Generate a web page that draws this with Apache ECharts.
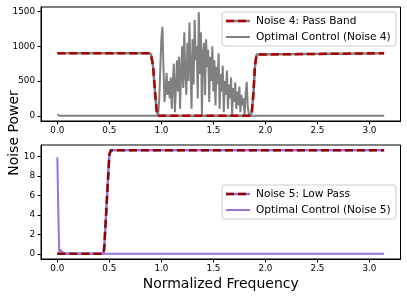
<!DOCTYPE html>
<html><head><meta charset="utf-8">
<script src="https://cdn.jsdelivr.net/npm/echarts@6/dist/echarts.min.js"></script>
<style>html,body{margin:0;padding:0;background:#fff}#c{width:407px;height:298px}</style>
</head><body><div id="c"></div>
<script>
// ---- data ----
const xTicks = [0, 0.5, 1.0, 1.5, 2.0, 2.5, 3.0];
const yTicksTop = [0, 500, 1000, 1500];
const yTicksBottom = [0, 2, 4, 6, 8, 10];

const noise4Freq  = [0, 0.88, 0.90, 0.92, 0.94, 0.955, 0.97, 1.855, 1.87, 1.885, 1.90, 1.915, 1.93, 3.1416];
const noise4Power = [900, 900, 885, 720, 320, 70, 0, 0, 60, 330, 720, 880, 900, 900];

const control4Freq = [0, 0.01, 0.02, 0.96, 0.97, 0.98, 0.99, 1.00, 1.01, 1.02, 1.03, 1.04, 1.05, 1.06, 1.07, 1.08, 1.09, 1.10,
  1.11, 1.12, 1.13, 1.14, 1.15, 1.16, 1.17, 1.18, 1.19, 1.20, 1.21, 1.22, 1.23, 1.24, 1.25, 1.26, 1.27, 1.28, 1.29, 1.30,
  1.31, 1.32, 1.33, 1.34, 1.35, 1.36, 1.37, 1.38, 1.39, 1.40, 1.41, 1.42, 1.43, 1.44, 1.45, 1.46, 1.47, 1.48, 1.49, 1.50,
  1.51, 1.52, 1.53, 1.54, 1.55, 1.56, 1.57, 1.58, 1.59, 1.60, 1.61, 1.62, 1.63, 1.64, 1.65, 1.66, 1.67, 1.68, 1.69, 1.70,
  1.71, 1.72, 1.73, 1.74, 1.75, 1.76, 1.77, 1.78, 1.79, 1.80, 1.81, 1.82, 1.83, 1.84, 1.85, 3.1416];
const control4Power = [20, 5, 0, 0, 30, 250, 700, 1100, 1280, 700, 200, 350, 620, 300, 500, 250, 550, 100,
  480, 750, 50, 400, 800, 350, 850, 100, 650, 1000, 400, 1200, 600, 300, 1050, 500, 1340, 700, 100, 1100,
  450, 1380, 800, 1000, 250, 1490, 600, 1200, 0, 900, 1050, 300, 1100, 700, 950, 200, 850, 500, 1000, 350,
  800, 150, 700, 450, 900, 100, 600, 350, 720, 50, 500, 300, 650, 100, 450, 250, 550, 0, 400, 200,
  480, 100, 350, 150, 420, 50, 300, 150, 250, 0, 300, 490, 150, 30, 0, 0];

const noise5Freq  = [0, 0.44, 0.45, 0.475, 0.50, 0.515, 3.1416];
const noise5Power = [0, 0, 0.5, 5.3, 10.2, 10.65, 10.65];

const control5Freq  = [0, 0.008, 0.018, 0.03, 0.04, 0.05, 0.07, 0.12, 0.2, 3.1416];
const control5Power = [9.9, 5.0, 0.2, 0.45, 0.2, 0.1, 0.06, 0.03, 0.0, 0.0];

const labels = ['Noise 4: Pass Band', 'Optimal Control (Noise 4)', 'Noise 5: Low Pass', 'Optimal Control (Noise 5)'];

// ---- build ----
const pairs = (xs, ys) => xs.map((x, i) => [x, ys[i]]);
const GRAY = '#808080', RED4 = '#b00000', RED5 = '#8b0000', PURP = '#9a74d8';
const tickFont = {fontFamily: 'DejaVu Sans', fontSize: 8.8, color: '#000'};

function xAxis(gi) {
  return {
    type: 'value', gridIndex: gi, min: -0.1571, max: 3.2987,
    axisLine: {show: true, onZero: false, lineStyle: {color: '#000', width: 1}},
    axisTick: {show: true, length: 3.5, customValues: xTicks, lineStyle: {color: '#000'}},
    axisLabel: Object.assign({customValues: xTicks, margin: 5, formatter: v => v.toFixed(1)}, tickFont),
    splitLine: {show: false}
  };
}
function yAxis(gi, min, max, ticks) {
  return {
    type: 'value', gridIndex: gi, min: min, max: max,
    axisLine: {show: true, onZero: false, lineStyle: {color: '#000', width: 1}},
    axisTick: {show: true, length: 3.5, customValues: ticks, lineStyle: {color: '#000'}},
    axisLabel: Object.assign({customValues: ticks, margin: 6, formatter: v => String(v)}, tickFont),
    splitLine: {show: false}
  };
}
function line(name, xi, data, color, width, type, z) {
  return {name: name, type: 'line', xAxisIndex: xi, yAxisIndex: xi, data: data, showSymbol: false,
    symbol: 'none', z: z, animation: false,
    lineStyle: {color: color, width: width, type: type}};
}

function legend(x, y, t1, t2, under, red, col) {
  const els = [
    {type: 'rect', shape: {x: x, y: y, width: 174, height: 34, r: 3},
     style: {fill: 'rgba(255,255,255,0.8)', stroke: '#cccccc', lineWidth: 1}},
    {type: 'line', shape: {x1: x + 4, y1: y + 9, x2: x + 28, y2: y + 9}, style: {stroke: under, lineWidth: 2.5}},
    {type: 'line', shape: {x1: x + 4, y1: y + 9, x2: x + 28, y2: y + 9}, style: {stroke: red, lineWidth: 2.5, lineDash: [8, 4]}},
    {type: 'line', shape: {x1: x + 4, y1: y + 25, x2: x + 28, y2: y + 25}, style: {stroke: col, lineWidth: 2}},
    {type: 'text', x: x + 34, y: y + 9, style: {text: t1, fontFamily: 'DejaVu Sans', fontSize: 10.6, fill: '#000', verticalAlign: 'middle'}},
    {type: 'text', x: x + 34, y: y + 25, style: {text: t2, fontFamily: 'DejaVu Sans', fontSize: 10.6, fill: '#000', verticalAlign: 'middle'}}
  ];
  return {type: 'group', children: els, z: 100};
}

const chart = echarts.init(document.getElementById('c'), null, {renderer: 'canvas'});
chart.setOption({
  animation: false,
  grid: [
    {left: 41, top: 7, right: 6.5, height: 114, show: true, borderColor: '#000', borderWidth: 1, backgroundColor: 'transparent'},
    {left: 41, top: 145, right: 6.5, height: 114, show: true, borderColor: '#000', borderWidth: 1, backgroundColor: 'transparent'}
  ],
  xAxis: [xAxis(0), xAxis(1)],
  yAxis: [yAxis(0, -75, 1565, yTicksTop), yAxis(1, -0.53, 11.18, yTicksBottom)],
  series: [
    line(labels[1], 0, pairs(control4Freq, control4Power), GRAY, 2, 'solid', 2),
    line(labels[0] + ' under', 0, pairs(noise4Freq, noise4Power), GRAY, 2.5, 'solid', 3),
    line(labels[0], 0, pairs(noise4Freq, noise4Power), RED4, 2.5, [8, 4], 4),
    line(labels[3], 1, pairs(control5Freq, control5Power), PURP, 2, 'solid', 2),
    line(labels[2] + ' under', 1, pairs(noise5Freq, noise5Power), PURP, 2.5, 'solid', 3),
    line(labels[2], 1, pairs(noise5Freq, noise5Power), RED5, 2.5, [8, 4], 4)
  ],
  graphic: [
    legend(222, 12, labels[0], labels[1], GRAY, RED4, GRAY),
    legend(222, 185, labels[2], labels[3], PURP, RED5, PURP),
    {type: 'text', x: 220.75, y: 284, style: {text: 'Normalized Frequency', fontFamily: 'DejaVu Sans', fontSize: 14,
      fill: '#000', align: 'center', verticalAlign: 'middle'}},
    {type: 'text', x: 14, y: 133, rotation: Math.PI / 2, style: {text: 'Noise Power', fontFamily: 'DejaVu Sans', fontSize: 14,
      fill: '#000', align: 'center', verticalAlign: 'middle'}}
  ]
});
</script></body></html>
